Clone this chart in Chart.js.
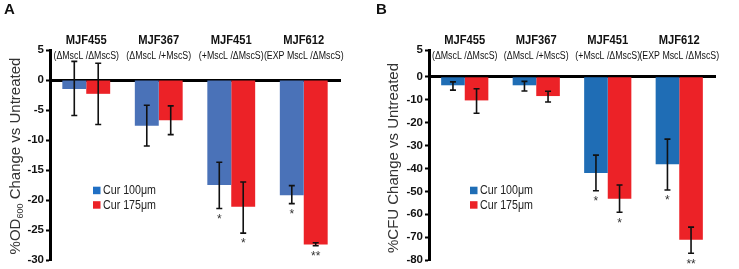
<!DOCTYPE html>
<html>
<head>
<meta charset="utf-8">
<script src="https://cdn.jsdelivr.net/npm/chart.js@4.4.1/dist/chart.umd.min.js"></script>
<style>
  body { margin: 0; background: #fff; }
  .panel { position: absolute; top: 0; height: 269px; }
  #wrapA { left: 0; width: 370px; }
  #wrapB { left: 370px; width: 369px; }
</style>
</head>
<body>
<div class="panel" id="wrapA"><canvas id="chartA"></canvas></div>
<div class="panel" id="wrapB"><canvas id="chartB"></canvas></div>
<script>
// strains and their genotype line
const strains = ['MJF455', 'MJF367', 'MJF451', 'MJF612'];
const genotypes = ['(\u0394MscL /\u0394MscS)', '(\u0394MscL /+MscS)', '(+MscL /\u0394MscS)', '(EXP MscL /\u0394MscS)'];
const seriesNames = ['Cur 100\u03bcm', 'Cur 175\u03bcm'];

// panel A: %OD600 change
const odCur100 = [-1.5, -7.6, -17.5, -19.2];
const odCur175 = [-2.3, -6.7, -21.1, -27.4];
const odLow100 = [-5.9, -11.0, -21.4, -20.6];
const odHigh100 = [3.1, -4.2, -13.7, -17.6];
const odLow175 = [-7.4, -9.1, -25.5, -27.6];
const odHigh175 = [2.8, -4.3, -17.0, -27.1];
const odStars100 = ['', '', '*', '*'];
const odStars175 = ['', '', '*', '**'];
const odTickValues = [5, 0, -5, -10, -15, -20, -25, -30];
const odTickLabels = ['5', '0', '-5', '-10', '-15', '-20', '-25', '-30'];

// panel B: %CFU change
const cfuCur100 = [-3.7, -3.7, -42.0, -38.2];
const cfuCur175 = [-10.3, -8.4, -53.2, -71.1];
const cfuLow100 = [-5.8, -6.2, -49.7, -49.4];
const cfuHigh100 = [-2.2, -2.0, -34.2, -27.2];
const cfuLow175 = [-15.9, -11.0, -59.1, -77.0];
const cfuHigh175 = [-5.2, -6.3, -47.2, -65.6];
const cfuStars100 = ['', '', '*', '*'];
const cfuStars175 = ['', '', '*', '**'];
// the top tick of the original sits a bit higher than a linear "5" would
const cfuTickValues = [11.7, 0, -10, -20, -30, -40, -50, -60, -70, -80];
const cfuTickLabels = ['5', '0', '-10', '-20', '-30', '-40', '-50', '-60', '-70', '-80'];

const FONT = '"Liberation Sans", Arial, sans-serif';
const RED = '#ec2227';

const extrasPlugin = {
    id: 'extras',
    afterDatasetsDraw(chart) {
        const o = chart.options.plugins.extras;
        const ctx = chart.ctx;
        const x = chart.scales.x;
        const y = chart.scales.y;
        ctx.save();

        // error bars and significance marks
        chart.data.datasets.forEach((ds, di) => {
            const meta = chart.getDatasetMeta(di);
            meta.data.forEach((bar, i) => {
                const top = y.getPixelForValue(o.high[di][i]);
                const bot = y.getPixelForValue(o.low[di][i]);
                ctx.strokeStyle = '#111';
                ctx.lineWidth = 1.6;
                ctx.beginPath();
                ctx.moveTo(bar.x, top); ctx.lineTo(bar.x, bot);
                ctx.moveTo(bar.x - 3, top); ctx.lineTo(bar.x + 3, top);
                ctx.moveTo(bar.x - 3, bot); ctx.lineTo(bar.x + 3, bot);
                ctx.stroke();
                const s = o.stars[di][i];
                if (s) {
                    ctx.fillStyle = '#333';
                    ctx.font = '12px ' + FONT;
                    ctx.textAlign = 'center';
                    ctx.textBaseline = 'top';
                    ctx.fillText(s, bar.x, bot + 5);
                }
            });
        });

        // strain headers (text in the original is a bit narrow)
        ctx.fillStyle = '#111';
        ctx.textAlign = 'center';
        ctx.textBaseline = 'middle';
        strains.forEach((s, i) => {
            const px = x.getPixelForValue(i);
            ctx.font = 'bold 12px ' + FONT;
            ctx.fillText(s, px, 41, 41);
            ctx.font = '10px ' + FONT;
            ctx.fillText(genotypes[i], px, 56.5, ctx.measureText(genotypes[i]).width * 0.88);
        });

        // legend
        ctx.font = '12.5px ' + FONT;
        ctx.textAlign = 'left';
        chart.data.datasets.forEach((ds, di) => {
            const ly = o.legendY + di * 14.5;
            ctx.fillStyle = o.legendColors[di];
            ctx.fillRect(o.legendX, ly - 3.8, 7.5, 7.5);
            ctx.fillStyle = '#222';
            ctx.fillText(ds.label, o.legendX + 10, ly + 0.5, 53);
        });

        // y title with subscript
        ctx.translate(o.titleX, o.titleY);
        ctx.rotate(-Math.PI / 2);
        ctx.fillStyle = '#333';
        ctx.textBaseline = 'middle';
        const parts = o.title;
        let w = 0;
        parts.forEach(p => { ctx.font = p.size + 'px ' + FONT; w += ctx.measureText(p.text).width; });
        let cx = -w / 2;
        parts.forEach(p => {
            ctx.font = p.size + 'px ' + FONT;
            ctx.fillText(p.text, cx, p.dy || 0);
            cx += ctx.measureText(p.text).width;
        });

        // panel letter
        ctx.setTransform(1, 0, 0, 1, 0, 0);
        ctx.font = 'bold 15px ' + FONT;
        ctx.fillStyle = '#111';
        ctx.textAlign = 'left';
        ctx.textBaseline = 'top';
        ctx.fillText(o.letter, o.letterX, 2);
        ctx.restore();
    }
};

function makeChart(id, cfg) {
    return new Chart(document.getElementById(id), {
        type: 'bar',
        data: {
            labels: strains,
            datasets: [
                { label: seriesNames[0], data: cfg.v100, backgroundColor: cfg.blue, borderWidth: 0 },
                { label: seriesNames[1], data: cfg.v175, backgroundColor: RED, borderWidth: 0 }
            ]
        },
        options: {
            responsive: true,
            maintainAspectRatio: false,
            animation: false,
            layout: { padding: cfg.padding },
            datasets: { bar: { categoryPercentage: 0.66, barPercentage: 1 } },
            plugins: {
                legend: { display: false },
                tooltip: { enabled: false },
                extras: cfg.extras
            },
            scales: {
                x: {
                    position: { y: 0 },
                    grid: { display: false },
                    ticks: { display: false },
                    border: { display: true, width: 3, color: '#000' }
                },
                y: {
                    min: cfg.min,
                    max: cfg.max,
                    afterFit(scale) { scale.width = cfg.axisWidth; },
                    afterBuildTicks(scale) { scale.ticks = cfg.tickValues.map(v => ({ value: v })); },
                    grid: { drawOnChartArea: false, tickLength: 4, tickWidth: 2, tickColor: '#000' },
                    border: { display: true, width: 3, color: '#000' },
                    ticks: {
                        padding: 2,
                        color: '#111',
                        font: { family: FONT, size: 11.5, weight: 'bold' },
                        callback: (v) => cfg.tickLabels[cfg.tickValues.indexOf(v)]
                    }
                }
            }
        },
        plugins: [extrasPlugin]
    });
}

makeChart('chartA', {
    v100: odCur100, v175: odCur175, blue: '#4a72b8',
    min: -30, max: 5, tickValues: odTickValues, tickLabels: odTickLabels,
    axisWidth: 50, padding: { left: 0, right: 30, top: 50, bottom: 4 },
    extras: {
        low: [odLow100, odLow175], high: [odHigh100, odHigh175], stars: [odStars100, odStars175],
        legendX: 93, legendY: 190.5, legendColors: ['#1f6fc4', RED],
        title: [{ text: '%OD', size: 15 }, { text: '600', size: 9, dy: 5 }, { text: ' Change vs Untreated', size: 15 }],
        titleX: 16, titleY: 156, letter: 'A', letterX: 4
    }
});

makeChart('chartB', {
    v100: cfuCur100, v175: cfuCur175, blue: '#1f6db5',
    min: -80, max: 11.7, tickValues: cfuTickValues, tickLabels: cfuTickLabels,
    axisWidth: 59, padding: { left: 0, right: 24, top: 50, bottom: 5 },
    extras: {
        low: [cfuLow100, cfuLow175], high: [cfuHigh100, cfuHigh175], stars: [cfuStars100, cfuStars175],
        legendX: 100, legendY: 190.5, legendColors: ['#1f6db5', RED],
        title: [{ text: '%CFU Change vs Untreated', size: 15 }],
        titleX: 24, titleY: 158, letter: 'B', letterX: 6
    }
});
</script>
</body>
</html>
